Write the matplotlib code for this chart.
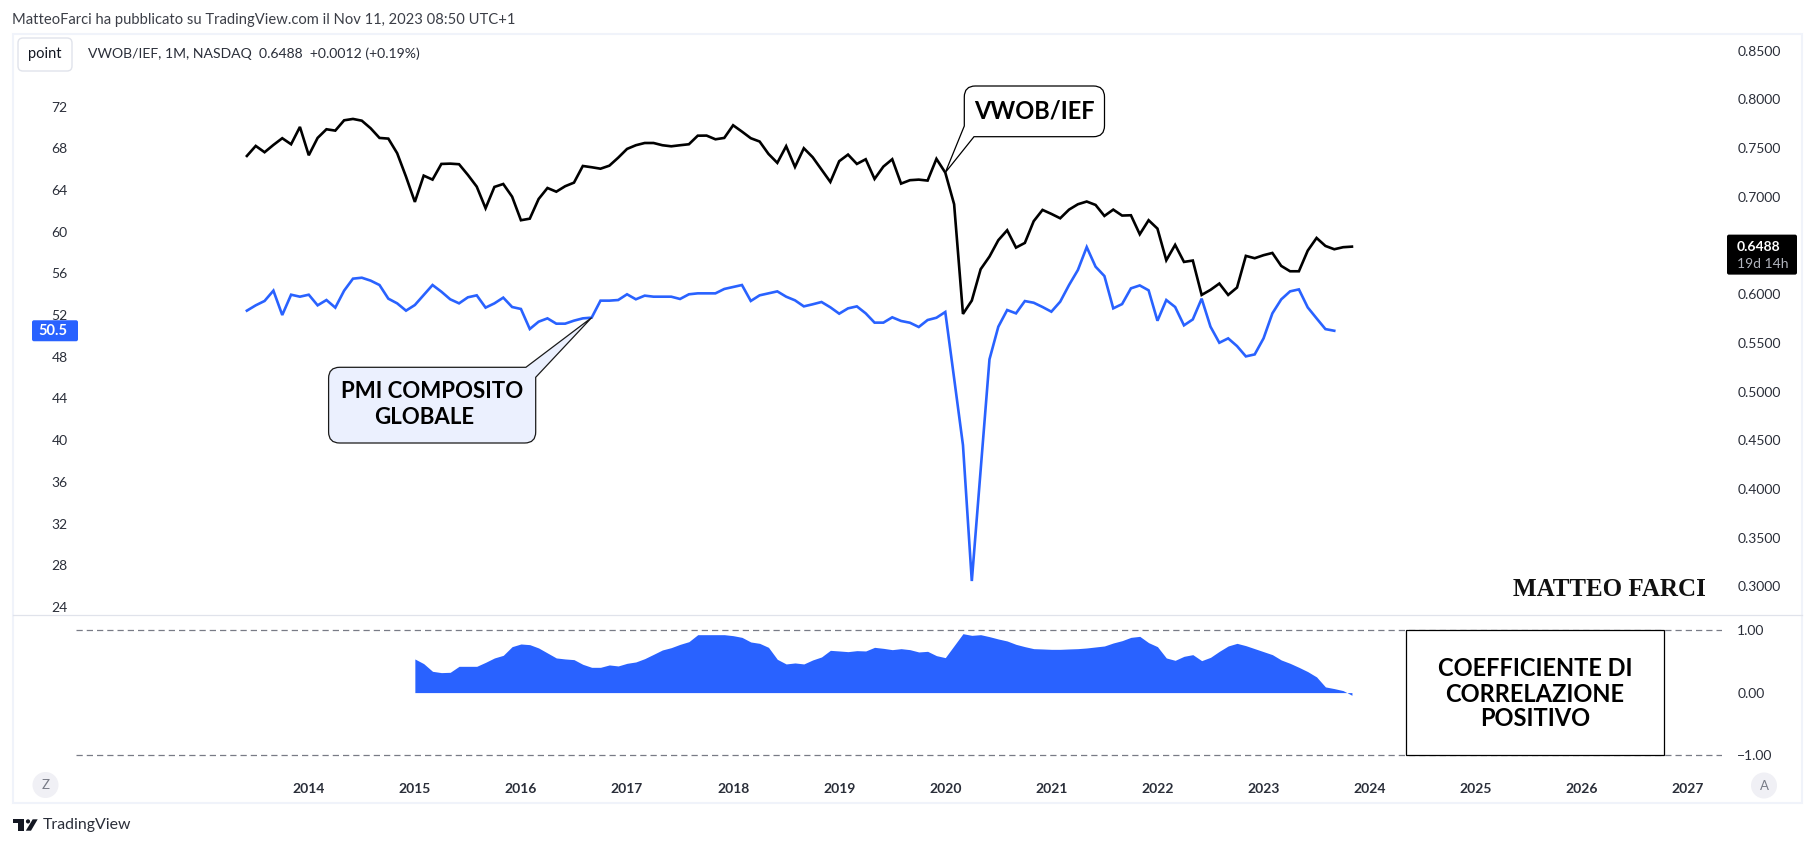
import numpy as np
import pandas as pd
import matplotlib
matplotlib.use("Agg")
import matplotlib.pyplot as plt
from matplotlib.path import Path
from matplotlib.patches import PathPatch, Rectangle, FancyBboxPatch, Circle, Polygon

W, H = 1815, 847

months = pd.date_range("2013-06-01", "2023-11-01", freq="MS")

vwob_ief = [
    0.7419, 0.7522, 0.7457, 0.7532, 0.7601, 0.7539, 0.7717, 0.7426, 0.7604, 0.7693, 0.7679, 0.7785,
    0.7799, 0.7781, 0.7703, 0.7604, 0.7597, 0.7447, 0.7206, 0.6947, 0.7217, 0.7176, 0.7337, 0.7340,
    0.7334, 0.7224, 0.7104, 0.6882, 0.7101, 0.7131, 0.7001, 0.6759, 0.6775, 0.6977, 0.7090, 0.7052,
    0.7108, 0.7145, 0.7316, 0.7303, 0.7288, 0.7319, 0.7401, 0.7491, 0.7529, 0.7552, 0.7552, 0.7529,
    0.7518, 0.7529, 0.7539, 0.7627, 0.7628, 0.7590, 0.7604, 0.7734, 0.7669, 0.7601, 0.7567, 0.7440,
    0.7348, 0.7519, 0.7306, 0.7498, 0.7406, 0.7279, 0.7152, 0.7365, 0.7433, 0.7337, 0.7385, 0.7183,
    0.7310, 0.7385, 0.7135, 0.7170, 0.7176, 0.7166, 0.7389, 0.7248, 0.6923, 0.5797, 0.5934, 0.6256,
    0.6386, 0.6554, 0.6656, 0.6478, 0.6526, 0.6749, 0.6865, 0.6824, 0.6779, 0.6868, 0.6923, 0.6951,
    0.6916, 0.6803, 0.6868, 0.6807, 0.6810, 0.6615, 0.6759, 0.6673, 0.6348, 0.6506, 0.6331, 0.6345,
    0.5992, 0.6044, 0.6109, 0.5992, 0.6068, 0.6393, 0.6369, 0.6400, 0.6423, 0.6290, 0.6235, 0.6235,
    0.6447, 0.6577, 0.6495, 0.6461, 0.6482, 0.6488,
]

pmi_composite = [
    52.43, 52.94, 53.36, 54.35, 52.01, 53.96, 53.77, 53.96, 52.94, 53.45, 52.72, 54.35,
    55.50, 55.59, 55.31, 54.89, 53.58, 53.13, 52.43, 52.97, 53.93, 54.89, 54.25, 53.52,
    53.13, 53.71, 53.90, 52.72, 53.13, 53.68, 52.78, 52.59, 50.67, 51.37, 51.69, 51.18,
    51.18, 51.47, 51.69, 51.76, 53.39, 53.39, 53.45, 54.00, 53.52, 53.87, 53.77, 53.77,
    53.77, 53.55, 54.00, 54.09, 54.09, 54.09, 54.51, 54.70, 54.89, 53.36, 53.90, 54.09,
    54.28, 53.77, 53.42, 52.84, 53.04, 53.26, 52.75, 52.14, 52.65, 52.84, 52.17, 51.28,
    51.28, 51.79, 51.44, 51.27, 50.86, 51.53, 51.75, 52.30, 45.94, 39.53, 26.48, 37.13,
    47.76, 50.89, 52.49, 52.17, 53.35, 53.19, 52.78, 52.33, 53.29, 54.89, 56.33, 58.53,
    56.65, 55.75, 52.65, 53.06, 54.57, 54.85, 54.38, 51.46, 53.45, 52.78, 51.02, 51.59,
    53.58, 50.89, 49.35, 49.77, 49.03, 48.04, 48.23, 49.77, 52.17, 53.51, 54.28, 54.47,
    52.74, 51.69, 50.66, 50.50,
]

# rolling correlation only exists from January 2015 on
corr_start = 19
correlation = [
    0.539, 0.464, 0.341, 0.320, 0.325, 0.421, 0.421, 0.421, 0.485, 0.555, 0.597, 0.736,
    0.779, 0.768, 0.715, 0.635, 0.555, 0.539, 0.528, 0.453, 0.405, 0.405, 0.443, 0.427,
    0.469, 0.491, 0.544, 0.613, 0.683, 0.720, 0.773, 0.816, 0.928, 0.928, 0.928, 0.928,
    0.912, 0.885, 0.811, 0.789, 0.725, 0.533, 0.459, 0.475, 0.459, 0.523, 0.571, 0.677,
    0.667, 0.656, 0.672, 0.667, 0.725, 0.709, 0.688, 0.704, 0.688, 0.651, 0.661, 0.592,
    0.560, 0.752, 0.944, 0.917, 0.928, 0.896, 0.859, 0.827, 0.773, 0.736, 0.704, 0.699,
    0.693, 0.693, 0.699, 0.704, 0.715, 0.731, 0.747, 0.795, 0.832, 0.885, 0.901, 0.800,
    0.736, 0.555, 0.517, 0.581, 0.608, 0.512, 0.565, 0.661, 0.747, 0.789, 0.752, 0.704,
    0.656, 0.608, 0.523, 0.469, 0.405, 0.336, 0.251, 0.091, 0.064, 0.032, -0.043,
]

years = list(range(2014, 2028))
left_ticks = list(range(24, 76, 4))
right_ticks = [0.30, 0.35, 0.40, 0.45, 0.50, 0.55, 0.60, 0.70, 0.75, 0.80, 0.85]
corr_ticks = [-1.0, 0.0, 1.0]

BLUE = "#2962ff"
TEXT = "#131722"
AXIS_TEXT = "#2a2e39"
SANS = "Lato"
CALLOUT = "Lato"

plt.rcParams["font.family"] = [SANS, "DejaVu Sans"]

fig = plt.figure(figsize=(W / 100, H / 100), dpi=100, facecolor="white")


def px_axes(left, top, right, bottom):
    return fig.add_axes([left / W, 1 - bottom / H, (right - left) / W, (bottom - top) / H])


x = np.arange(len(months))
xlim = (-19.33, 166.86)
year_pos = [(y - 2013) * 12 - 5 for y in years]

# price pane, PMI on the left scale and the ratio on the right one
ax = px_axes(76, 34, 1722, 614.7)
ax.set_xlim(xlim)
ax.set_ylim(23.25, 78.98)
ax.plot(x[:len(pmi_composite)], pmi_composite, color=BLUE, lw=1.9, solid_joinstyle="miter")
ax.set_yticks(left_ticks)
ax.tick_params(axis="y", length=0, pad=6, labelsize=10, labelcolor=AXIS_TEXT)
ax.tick_params(axis="x", length=0, labelbottom=False)

ax_r = ax.twinx()
ax_r.set_ylim(0.2709, 0.8671)
ax_r.plot(x, vwob_ief, color="black", lw=1.9, solid_joinstyle="miter")
ax_r.set_yticks(right_ticks)
ax_r.set_yticklabels([f"{t:.4f}" for t in right_ticks])
ax_r.tick_params(axis="y", length=0, pad=11, labelsize=10, labelcolor=AXIS_TEXT)

# correlation pane
ax2 = px_axes(76, 614.7, 1722, 770)
ax2.set_xlim(xlim)
ax2.set_ylim(-1.24, 1.248)
ax2.axhline(1, color="#787b86", lw=0.9, dashes=(5, 3.2))
ax2.axhline(-1, color="#787b86", lw=0.9, dashes=(5, 3.2))
corr_x = x[corr_start:]
ax2.fill_between(corr_x, correlation, 0, color=BLUE, lw=0)
ax2.set_xticks(year_pos)
ax2.set_xticklabels(years, fontweight="bold", color=AXIS_TEXT, fontsize=10)
ax2.yaxis.tick_right()
ax2.set_yticks(corr_ticks)
ax2.set_yticklabels(["\u22121.00", "0.00", "1.00"])
ax2.tick_params(axis="y", length=0, pad=11, labelsize=10, labelcolor=AXIS_TEXT)
ax2.tick_params(axis="x", length=0, pad=9)

for a in (ax, ax_r, ax2):
    for s in a.spines.values():
        s.set_visible(False)
    a.patch.set_alpha(0)

# overlay in pixel coordinates for the frame, labels and drawings
ov = fig.add_axes([0, 0, 1, 1])
ov.set_xlim(0, W)
ov.set_ylim(H, 0)
ov.axis("off")


def to_px(a, xv, yv):
    return ov.transData.inverted().transform(a.transData.transform((xv, yv)))


def rounded_poly(points):
    # points are (x, y, corner radius)
    verts, codes = [], []
    n = len(points)
    for i, (px, py, r) in enumerate(points):
        p = np.array([px, py], float)
        if r == 0:
            verts.append(p)
            codes.append(Path.MOVETO if i == 0 else Path.LINETO)
            continue
        prev = np.array(points[i - 1][:2], float)
        nxt = np.array(points[(i + 1) % n][:2], float)
        a = p + (prev - p) / np.linalg.norm(prev - p) * r
        b = p + (nxt - p) / np.linalg.norm(nxt - p) * r
        verts += [a, p, b]
        codes += [Path.MOVETO if i == 0 else Path.LINETO, Path.CURVE3, Path.CURVE3]
    verts.append(verts[0])
    codes.append(Path.CLOSEPOLY)
    return Path(verts, codes)


ov.add_patch(Rectangle((13, 34), 1789, 769, fill=False, ec="#f0f3fa", lw=1.5))
ov.plot([13, 1802], [614.7, 614.7], color="#e0e3eb", lw=0.9)

ov.text(12.5, 20, "MatteoFarci ha pubblicato su TradingView.com il Nov 11, 2023 08:50 UTC+1",
        fontsize=10.6, color="#3b3e47", va="center")
ov.add_patch(FancyBboxPatch((21, 41), 48, 27, boxstyle="round,pad=3,rounding_size=5",
                            fc="white", ec="#e0e3eb", lw=1))
ov.text(45, 54, "point", fontsize=10.5, color=TEXT, ha="center", va="center")
ov.text(88, 54, "VWOB/IEF, 1M, NASDAQ  0.6488  +0.0012 (+0.19%)", fontsize=10.1,
        color=AXIS_TEXT, va="center")

# last value badges
_, pmi_y = to_px(ax, 0, pmi_composite[-1])
ov.add_patch(FancyBboxPatch((33, pmi_y - 9.5), 44, 19, boxstyle="round,pad=1,rounding_size=2",
                            fc=BLUE, ec="none"))
ov.text(53, pmi_y, f"{pmi_composite[-1]:.1f}", fontsize=10.5, fontweight="bold", color="white",
        ha="center", va="center")

_, ratio_y = to_px(ax_r, 0, vwob_ief[-1])
ov.add_patch(FancyBboxPatch((1728, ratio_y - 11), 68, 38, boxstyle="round,pad=1,rounding_size=2",
                            fc="black", ec="none"))
ov.text(1737, ratio_y, f"{vwob_ief[-1]:.4f}", fontsize=10, fontweight="bold", color="white",
        va="center")
ov.text(1737, ratio_y + 17.5, "19d 14h", fontsize=10, color="#b2b5be", va="center")

# callouts
tip = to_px(ax_r, 79, vwob_ief[79])
ov.add_patch(PathPatch(rounded_poly([
    (964.3, 86, 11), (1104.5, 86, 11), (1104.5, 136.7, 11), (974, 136.7, 0),
    (tip[0], tip[1], 0), (964.3, 126, 0)]), fc="white", ec="black", lw=0.9))
ov.text(1034, 111, "VWOB/IEF", fontsize=17, fontweight="bold", color="black",
        family=CALLOUT, ha="center", va="center")

tip = to_px(ax, 39, pmi_composite[39])
ov.add_patch(PathPatch(rounded_poly([
    (328.6, 367.3, 11), (525.9, 367.3, 0), (tip[0], tip[1], 0), (535.7, 377.3, 0),
    (535.7, 443, 11), (328.6, 443, 11)]), fc="#ebf0fe", ec="#1a1a1a", lw=0.9))
ov.text(432, 392, "PMI COMPOSITO", fontsize=16, fontweight="bold", color="black",
        family=CALLOUT, ha="center", va="center")
ov.text(424.5, 417, "GLOBALE", fontsize=16, fontweight="bold", color="black",
        family=CALLOUT, ha="center", va="center")

ov.add_patch(Rectangle((1406.4, 630.3), 257.3, 125, fc="white", ec="black", lw=0.9))
for label, yy in zip(["COEFFICIENTE DI", "CORRELAZIONE", "POSITIVO"], [669, 694, 718.5]):
    ov.text(1535, yy, label, fontsize=17, fontweight="bold", color="black",
            family=CALLOUT, ha="center", va="center")

ov.text(1609, 589, "MATTEO FARCI", fontsize=18, fontweight="bold", color="#111111",
        family="Liberation Serif", ha="center", va="center")

# scale buttons
ov.add_patch(Circle((45.5, 785), 13, fc="#f0f0f5", ec="none"))
ov.text(45.5, 785, "Z", fontsize=9.5, color="#787b86", ha="center", va="center")
ov.add_patch(Circle((1764, 785.5), 13, fc="#f0f0f5", ec="none"))
ov.text(1764, 785.5, "A", fontsize=9.5, color="#787b86", ha="center", va="center")

# footer logo
ov.add_patch(Polygon([(13.3, 819.3), (24.3, 819.3), (24.3, 830.7), (18.3, 830.7),
                      (18.3, 823.3), (13.3, 823.3)], fc="#131722", ec="none"))
ov.add_patch(Circle((28, 821.4), 2.1, fc="#131722", ec="none"))
ov.add_patch(Polygon([(32.7, 819.3), (37.7, 819.3), (31, 830.7), (25.8, 830.7)],
                     fc="#131722", ec="none"))
ov.text(43, 825, "TradingView", fontsize=11.4, color="#2a2e39", va="center")

fig.savefig("out.png", dpi=100, facecolor="white")
